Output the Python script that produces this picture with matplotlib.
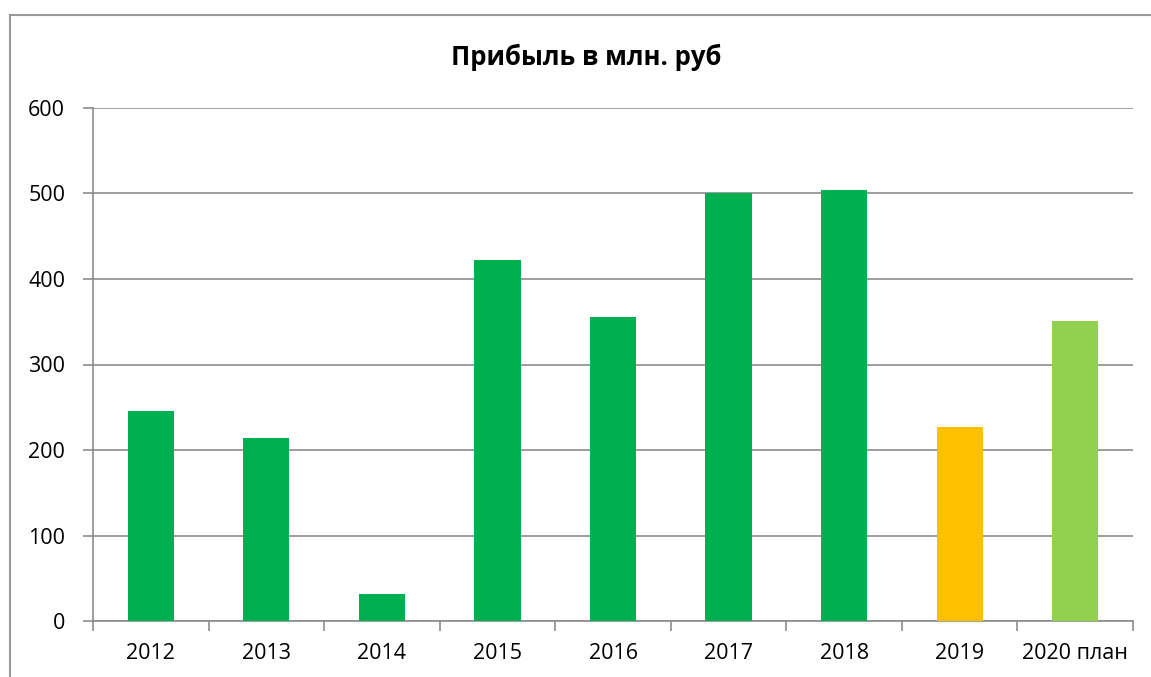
import matplotlib.pyplot as plt
import numpy as np
from matplotlib.lines import Line2D

plt.rcParams['font.family'] = ['Open Sans', 'DejaVu Sans']

# data
years = ['2012', '2013', '2014', '2015', '2016', '2017', '2018', '2019', '2020 план']
profit = [246, 214, 32, 422, 356, 500, 504, 227, 351]
colors = ['#00B050'] * 7 + ['#FFC000', '#92D050']

fig = plt.figure(figsize=(11.51, 6.77), dpi=100)
ax = fig.add_axes([93 / 1151, 1 - 621 / 677, 1040 / 1151, 513 / 677])

x = np.arange(len(years))
ax.bar(x, profit, width=0.4, color=colors, zorder=3)

grey = '#8c8c8c'
ax.set_ylim(0, 600)
ax.set_xlim(-0.5, len(years) - 0.5)
ax.set_yticks(range(0, 601, 100))
ax.yaxis.grid(True, color=grey, linewidth=1.2, zorder=0)
ax.set_xticks(x)
ax.set_xticklabels(years)
ax.set_xticks(np.arange(-0.5, len(years)), minor=True)
ax.tick_params(axis='x', which='major', length=0, pad=16, labelsize=15.5)
ax.tick_params(axis='x', which='minor', length=7, width=1.2, color=grey)
ax.tick_params(axis='y', length=7, width=1.2, color=grey, pad=13, labelsize=15.5)

for side in ['top', 'right']:
    ax.spines[side].set_visible(False)
for side in ['left', 'bottom']:
    ax.spines[side].set_color(grey)
    ax.spines[side].set_linewidth(1.2)

fig.text(586 / 1151, 1 - 57 / 677, 'Прибыль в млн. руб', ha='center', va='center',
         fontsize=18.5, fontweight='bold')

# chart area border
fig.add_artist(Line2D([10 / 1151, 10 / 1151], [0, 1 - 15 / 677], color='#999999', linewidth=1.5))
fig.add_artist(Line2D([10 / 1151, 1], [1 - 15 / 677, 1 - 15 / 677], color='#999999', linewidth=1.5))

fig.savefig('out.png', dpi=100)
